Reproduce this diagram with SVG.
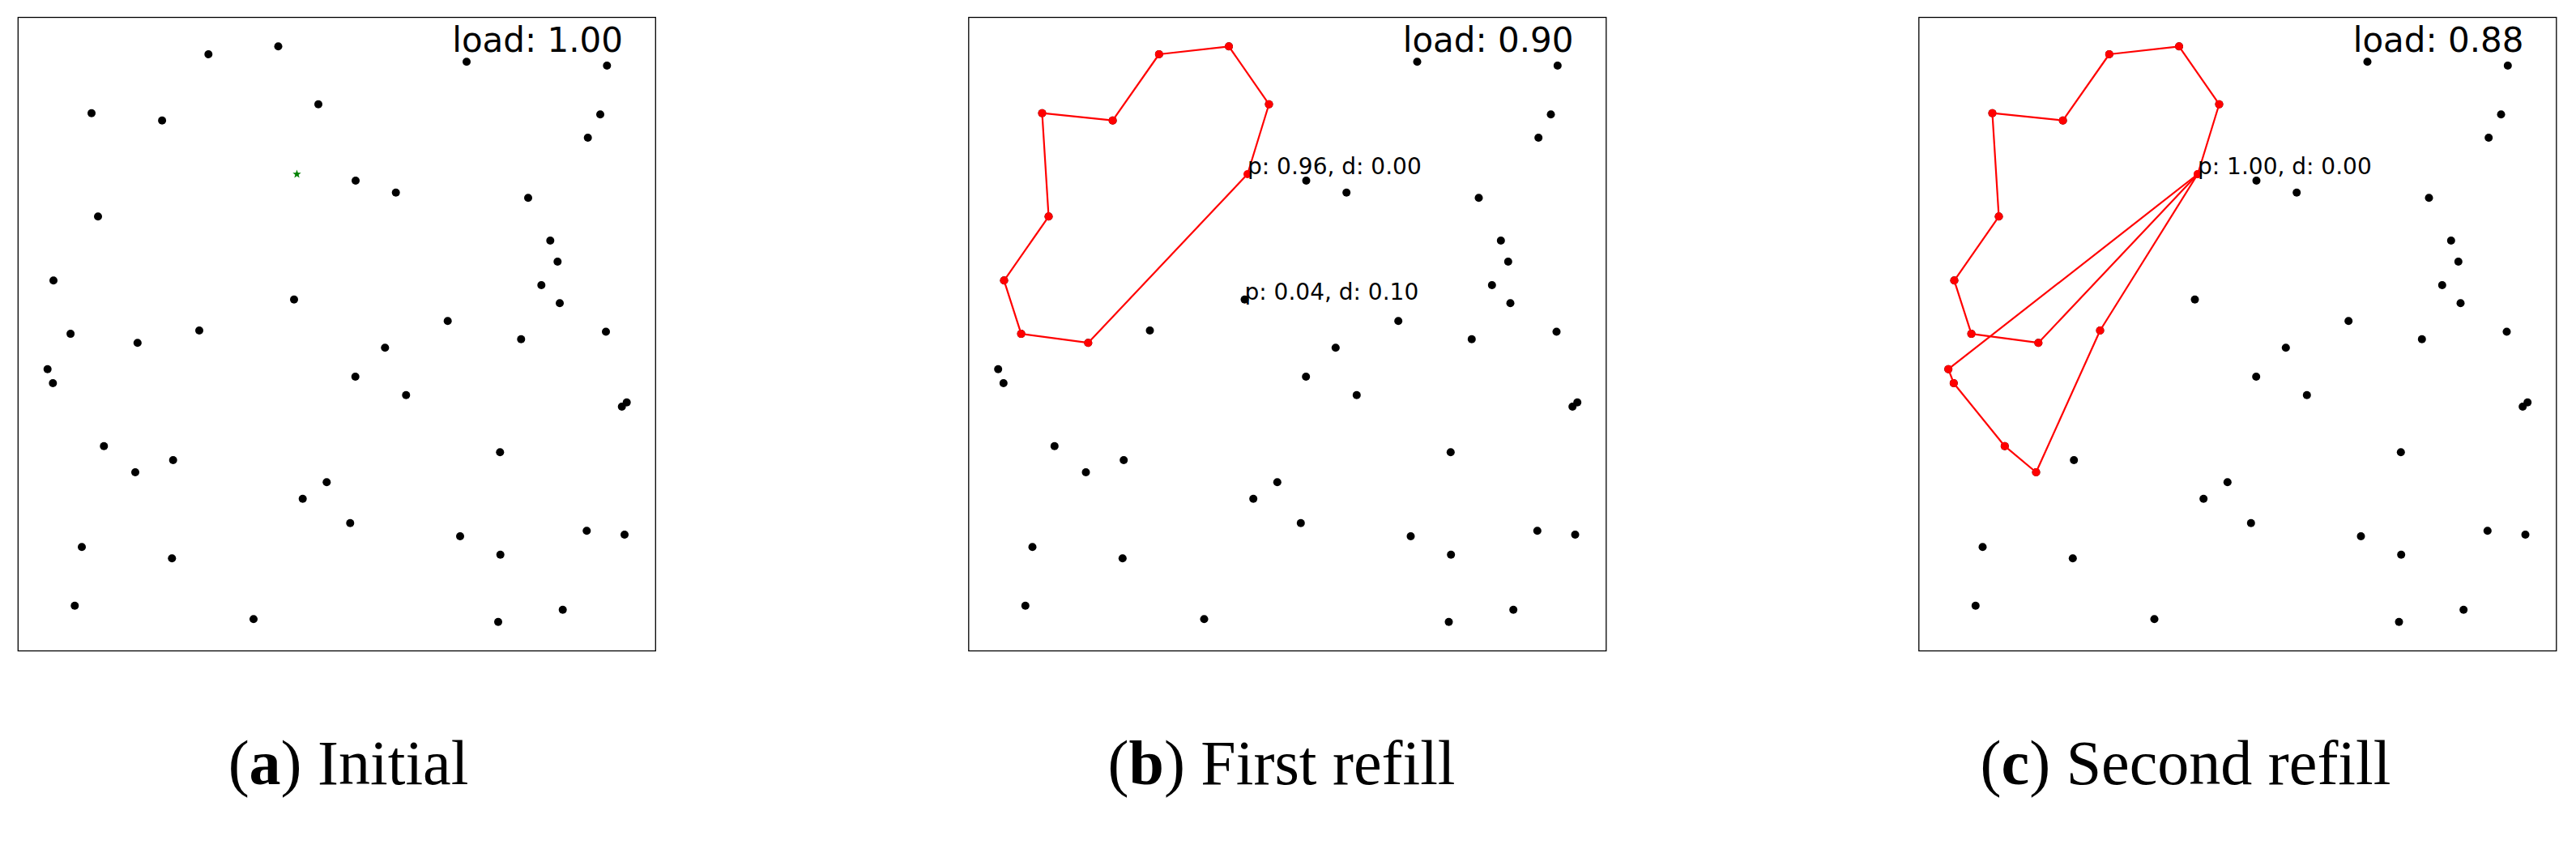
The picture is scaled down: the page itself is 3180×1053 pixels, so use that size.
<svg xmlns="http://www.w3.org/2000/svg" xmlns:xlink="http://www.w3.org/1999/xlink" width="3180" height="1053" viewBox="0 0 3180 1053">
<style>
.frame{fill:#fff;stroke:#000;stroke-width:1.3}
.dot{fill:#000}
.rdot{fill:#ff0000}
.route{fill:none;stroke:#ff0000;stroke-width:2.2;stroke-linejoin:round}
.load{font-family:"DejaVu Sans",sans-serif;font-size:42px;fill:#000;text-anchor:end}
.lab{font-family:"DejaVu Sans",sans-serif;font-size:28px;fill:#000}
.cap{font-family:"Liberation Serif","Times New Roman",serif;font-size:78px;fill:#000;text-anchor:middle}
</style>
<defs>
<g id="pts" class="dot">
<circle cx="257.3" cy="67" r="5"/>
<circle cx="343.5" cy="57.3" r="5"/>
<circle cx="113" cy="139.7" r="5"/>
<circle cx="200.1" cy="148.7" r="5"/>
<circle cx="393" cy="128.7" r="5"/>
<circle cx="121" cy="267.3" r="5"/>
<circle cx="66" cy="346.3" r="5"/>
<circle cx="363" cy="369.7" r="5"/>
<circle cx="87.1" cy="412.1" r="5"/>
<circle cx="246" cy="408" r="5"/>
<circle cx="576" cy="76.3" r="5"/>
<circle cx="749.3" cy="81" r="5"/>
<circle cx="741" cy="141.3" r="5"/>
<circle cx="725.7" cy="170" r="5"/>
<circle cx="439" cy="223" r="5"/>
<circle cx="488.7" cy="237.7" r="5"/>
<circle cx="652" cy="244.3" r="5"/>
<circle cx="679.3" cy="297" r="5"/>
<circle cx="688.3" cy="323" r="5"/>
<circle cx="668.3" cy="352" r="5"/>
<circle cx="691" cy="374.3" r="5"/>
<circle cx="552.7" cy="396.3" r="5"/>
<circle cx="748" cy="409.5" r="5"/>
<circle cx="643.3" cy="418.7" r="5"/>
<circle cx="169.8" cy="423.2" r="5"/>
<circle cx="58.7" cy="455.7" r="5"/>
<circle cx="65.3" cy="473" r="5"/>
<circle cx="128.3" cy="550.7" r="5"/>
<circle cx="213.7" cy="568" r="5"/>
<circle cx="167" cy="583" r="5"/>
<circle cx="403.3" cy="595.3" r="5"/>
<circle cx="373.7" cy="615.7" r="5"/>
<circle cx="101" cy="675.3" r="5"/>
<circle cx="212.3" cy="689.3" r="5"/>
<circle cx="92.3" cy="747.7" r="5"/>
<circle cx="313" cy="764.3" r="5"/>
<circle cx="475.3" cy="429.3" r="5"/>
<circle cx="438.7" cy="465" r="5"/>
<circle cx="501.3" cy="487.7" r="5"/>
<circle cx="773.7" cy="496.7" r="5"/>
<circle cx="767.7" cy="502" r="5"/>
<circle cx="617.3" cy="558.3" r="5"/>
<circle cx="432.3" cy="645.7" r="5"/>
<circle cx="568" cy="662" r="5"/>
<circle cx="724.3" cy="655.3" r="5"/>
<circle cx="771" cy="660" r="5"/>
<circle cx="617.7" cy="684.7" r="5"/>
<circle cx="694.7" cy="752.7" r="5"/>
<circle cx="615" cy="767.7" r="5"/>
</g>
<g id="route1">
<polygon class="route" points="366.5,215 393,128.7 343.5,57.3 257.3,67 200.1,148.7 113,139.7 121,267.3 66,346.3 87.1,412.1 169.8,423.2"/>
<g class="rdot">
<circle cx="366.5" cy="215" r="5"/>
<circle cx="393" cy="128.7" r="5"/>
<circle cx="343.5" cy="57.3" r="5"/>
<circle cx="257.3" cy="67" r="5"/>
<circle cx="200.1" cy="148.7" r="5"/>
<circle cx="113" cy="139.7" r="5"/>
<circle cx="121" cy="267.3" r="5"/>
<circle cx="66" cy="346.3" r="5"/>
<circle cx="87.1" cy="412.1" r="5"/>
<circle cx="169.8" cy="423.2" r="5"/>
</g>
</g>
</defs>

<g id="panel-a">
<rect class="frame" x="22.3" y="21.5" width="787" height="782"/>
<use xlink:href="#pts" href="#pts"/>
<polygon id="depot-star" fill="#008000" points="366.5,209.5 367.8,213.2 371.7,213.3 368.6,215.7 369.7,219.4 366.5,217.2 363.3,219.4 364.4,215.7 361.3,213.3 365.2,213.2"/>
<text class="load" x="769" y="64">load: 1.00</text>
</g>

<g id="panel-b" transform="translate(1173.5,0)">
<rect class="frame" x="22.3" y="21.5" width="787" height="782"/>
<use xlink:href="#pts" href="#pts"/>
<use xlink:href="#route1" href="#route1"/>
<text class="lab" x="366.5" y="215">p: 0.96, d: 0.00</text>
<text class="lab" x="363" y="369.7">p: 0.04, d: 0.10</text>
<text class="load" x="769" y="64">load: 0.90</text>
</g>

<g id="panel-c" transform="translate(2346.5,0)">
<rect class="frame" x="22.3" y="21.5" width="787" height="782"/>
<use xlink:href="#pts" href="#pts"/>
<use xlink:href="#route1" href="#route1"/>
<polygon class="route" points="366.5,215 58.7,455.7 65.3,473 128.3,550.7 167,583 246,408"/>
<g class="rdot">
<circle cx="58.7" cy="455.7" r="5"/>
<circle cx="65.3" cy="473" r="5"/>
<circle cx="128.3" cy="550.7" r="5"/>
<circle cx="167" cy="583" r="5"/>
<circle cx="246" cy="408" r="5"/>
<circle cx="366.5" cy="215" r="5"/>
</g>
<text class="lab" x="366.5" y="215">p: 1.00, d: 0.00</text>
<text class="load" x="769" y="64">load: 0.88</text>
</g>

<g id="captions">
<text class="cap" x="430" y="968">(<tspan font-weight="bold">a</tspan>) Initial</text>
<text class="cap" x="1582" y="968">(<tspan font-weight="bold">b</tspan>) First refill</text>
<text class="cap" x="2698" y="968">(<tspan font-weight="bold">c</tspan>) Second refill</text>
</g>
</svg>
